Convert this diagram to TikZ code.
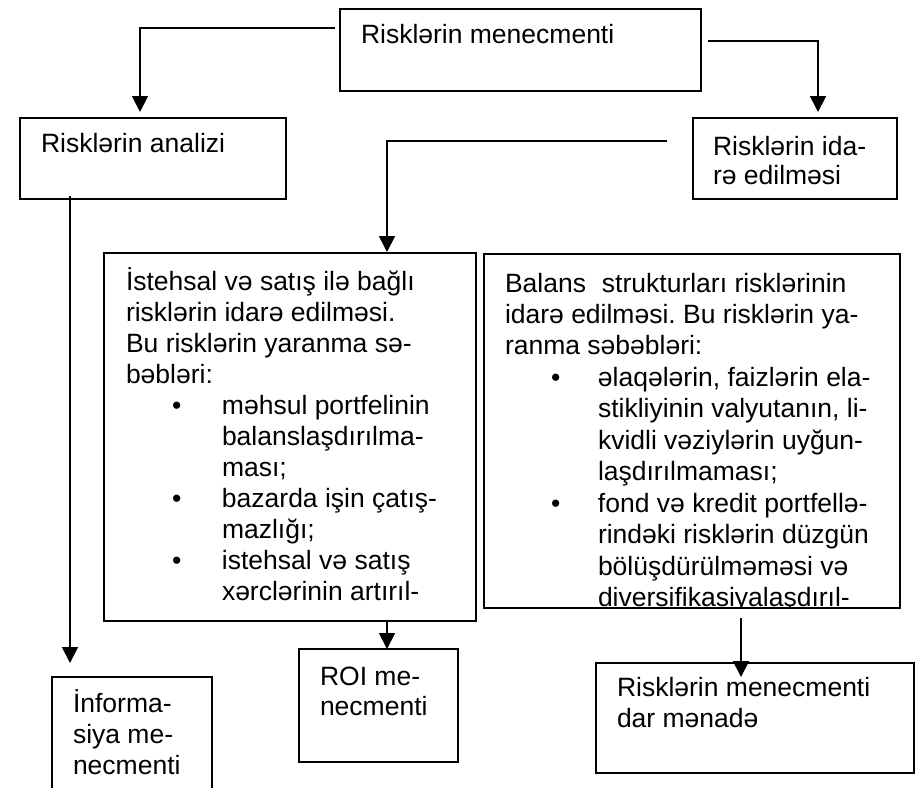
\documentclass[tikz,border=0pt]{standalone}
\usepackage{fontspec}
\setmainfont{Liberation Sans}
\usetikzlibrary{arrows.meta}
\frenchspacing

% text size with a chosen line distance
\newcommand\boxfont[1]{\fontsize{26.5pt}{#1pt}\selectfont}
% left-aligned block whose reference point is the first baseline
\newcommand\lines[2]{\parbox[t]{520pt}{\raggedright\boxfont{#1}#2}}
% bullet item lines
\newcommand\itemL{\hspace*{46pt}\makebox[50pt][l]{•}}
\newcommand\contL{\hspace*{96pt}}
\newcommand\itemR{\hspace*{46pt}\makebox[47pt][l]{•}}
\newcommand\contR{\hspace*{93pt}}

\begin{document}
\begin{tikzpicture}[x=1pt,y=1pt,
  box/.style={draw, line width=2pt, rectangle, inner sep=0pt, outer sep=0pt, anchor=north west},
  conn/.style={line width=1.8pt, -{Triangle[length=16pt,width=16pt]}},
  txt/.style={anchor=base west, inner sep=0pt, outer sep=0pt}
]
\useasboundingbox (0,0) rectangle (917,-787);
\clip (0,0) rectangle (917,-787);

% boxes
\node[box, minimum width=361pt, minimum height=82pt] (top)      at (340,-9)   {};
\node[box, minimum width=266pt, minimum height=81pt] (analizi)  at (20,-118)  {};
\node[box, minimum width=204pt, minimum height=81pt] (ida)      at (693,-118) {};
\node[box, minimum width=372pt, minimum height=368pt] (bigleft) at (104,-253) {};
\node[box, minimum width=416pt, minimum height=354pt] (bigright) at (484,-254) {};
\node[box, minimum width=160pt, minimum height=130pt] (info)    at (52,-677)  {};
\node[box, minimum width=159pt, minimum height=113pt] (roi)     at (299,-649) {};
\node[box, minimum width=318pt, minimum height=110pt] (dar)     at (596,-663) {};

% box texts
\node[txt] at ([shift={(21,-34)}]top.north west) {\lines{30}{Risklərin menecmenti}};
\node[txt] at ([shift={(21,-34)}]analizi.north west) {\lines{30}{Risklərin analizi}};
\node[txt] at ([shift={(20,-37)}]ida.north west) {\lines{29}{Risklərin ida-\\rə edilməsi}};

\node[txt] at ([shift={(22,-37)}]bigleft.north west) {\lines{31}{%
İstehsal və satış ilə bağlı\\
risklərin idarə edilməsi.\\
Bu risklərin yaranma sə-\\
bəbləri:\\
\itemL məhsul portfelinin\\
\contL balanslaşdırılma-\\
\contL ması;\\
\itemL bazarda işin çatış-\\
\contL mazlığı;\\
\itemL istehsal və satış\\
\contL xərclərinin artırıl-}};

\begin{scope}
  \clip ([shift={(1,-1)}]bigright.north west) rectangle ([shift={(-1,1)}]bigright.south east);
  \node[txt] at ([shift={(21,-38)}]bigright.north west) {\lines{31.45}{%
  Balans\hspace{16pt}strukturları risklərinin\\
  idarə edilməsi. Bu risklərin ya-\\
  ranma səbəbləri:\\
  \itemR əlaqələrin, faizlərin ela-\\
  \contR stikliyinin valyutanın, li-\\
  \contR kvidli vəziylərin uyğun-\\
  \contR laşdırılmaması;\\
  \itemR fond və kredit portfellə-\\
  \contR rindəki risklərin düzgün\\
  \contR bölüşdürülməməsi və\\
  \contR diversifikasiyalaşdırıl-}};
\end{scope}

\node[txt] at ([shift={(21,-35)}]info.north west) {\lines{31}{İnforma-\\siya me-\\necmenti}};
\node[txt] at ([shift={(21,-36)}]roi.north west) {\lines{30}{ROI me-\\necmenti}};
\node[txt] at ([shift={(21,-33)}]dar.north west) {\lines{31}{Risklərin menecmenti\\dar mənadə}};

% connectors
\draw[conn] ([shift={(-5,-19)}]top.north west) -| ([shift={(120,6)}]analizi.north west);
\draw[conn] ([shift={(7,-32)}]top.north east) -| ([shift={(125,6)}]ida.north west);
\draw[conn] ([shift={(-26,-23)}]ida.north west) -| ([shift={(283,1)}]bigleft.north west);
\draw[conn] ([shift={(50,3)}]analizi.south west) -- ([shift={(18,14)}]info.north west);
\draw[conn] ([shift={(283,0)}]bigleft.south west) -- ([shift={(88,0)}]roi.north west);
\draw[conn] ([shift={(257,-10)}]bigright.south west) -- ([shift={(145,-14)}]dar.north west);
\end{tikzpicture}
\end{document}
